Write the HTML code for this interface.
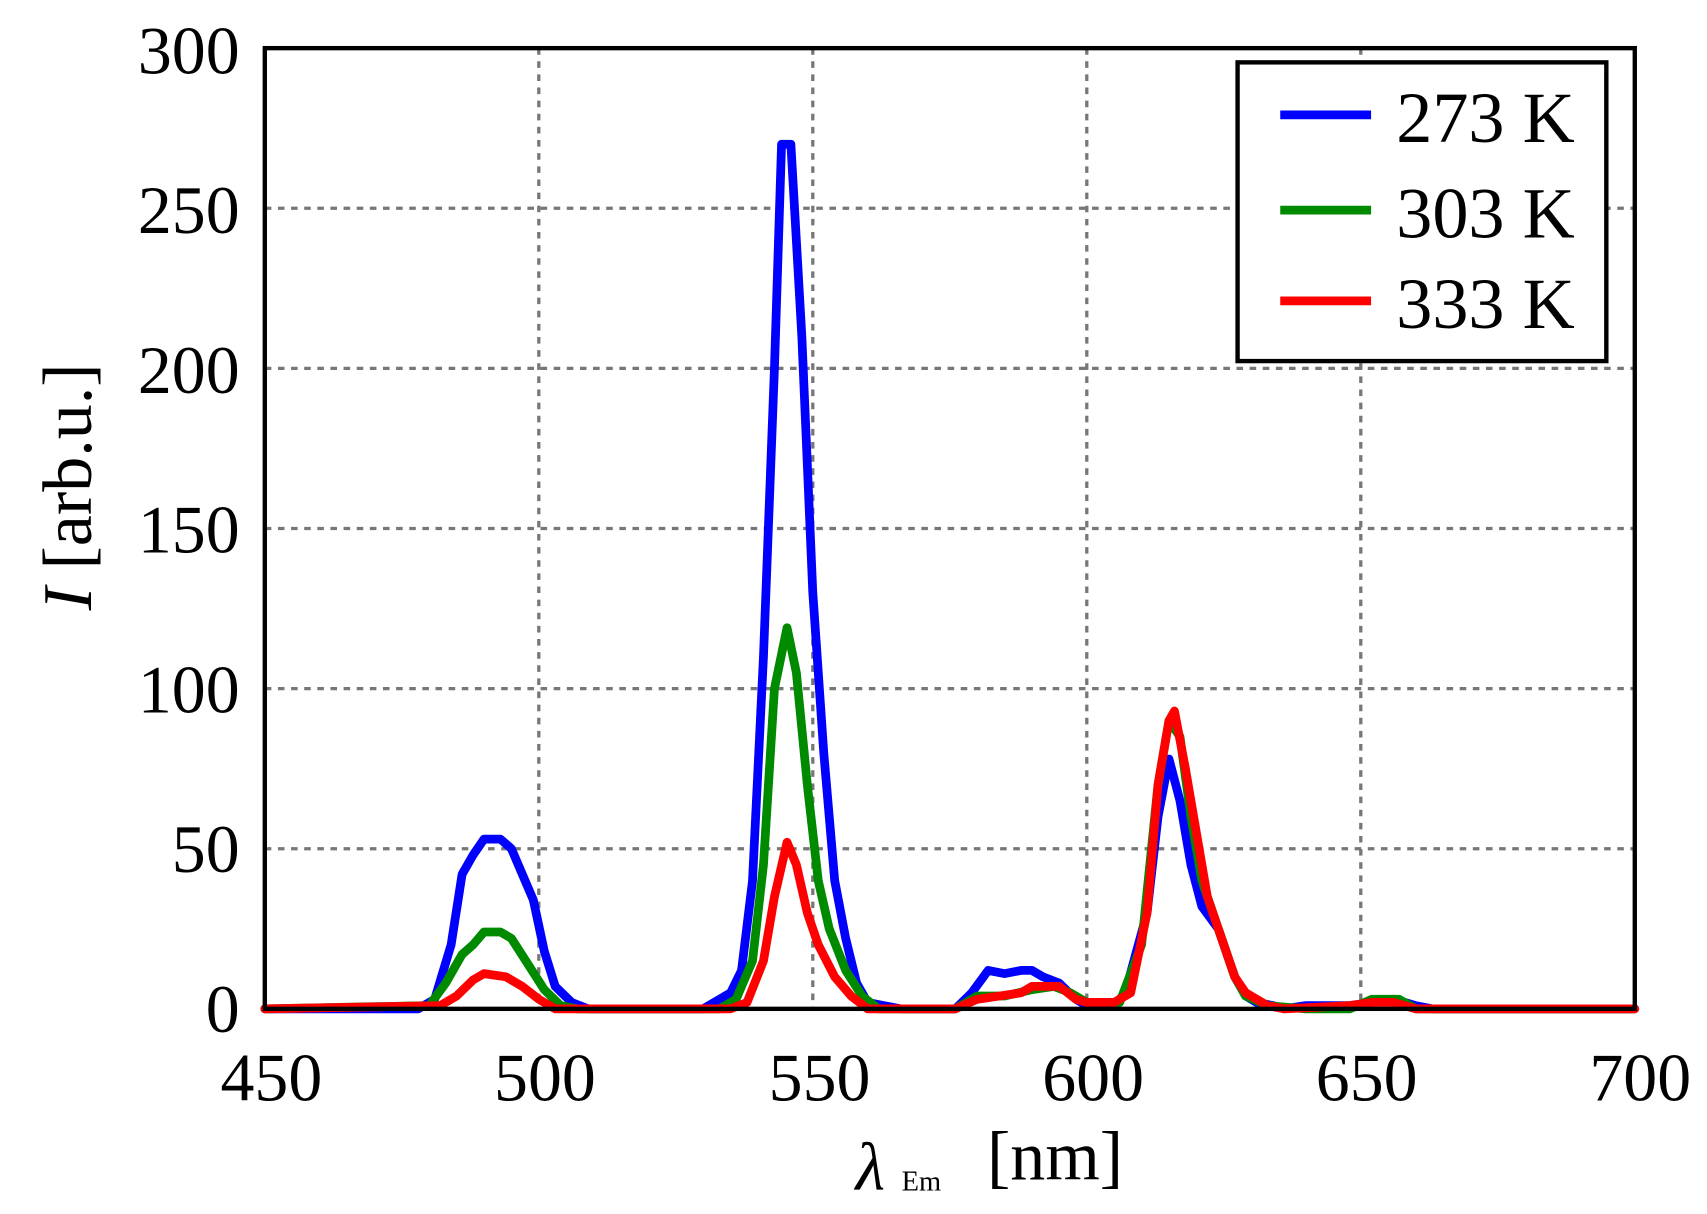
<!DOCTYPE html>
<html><head><meta charset="utf-8"><style>
html,body{margin:0;padding:0;background:#fff;}
svg{display:block}
text{font-family:"Liberation Serif",serif;fill:#000}
</style></head><body>
<svg id="s" width="1707" height="1214" viewBox="0 0 1560 1109.5" preserveAspectRatio="none" xmlns="http://www.w3.org/2000/svg">
<rect x="0" y="0" width="1560" height="1110" fill="#fff"/>
<g id="grid" stroke="#777" stroke-width="3" stroke-dasharray="6,6"></g>
<g id="lines" fill="none" stroke-width="8" stroke-linejoin="round" stroke-linecap="round"></g>
<rect x="242" y="44" width="1252" height="878" fill="none" stroke="#000" stroke-width="4"/>
<g font-size="62" text-anchor="end">
<text x="219" y="943">0</text><text x="219" y="797">50</text><text x="219" y="651">100</text>
<text x="219" y="505">150</text><text x="219" y="359">200</text><text x="219" y="213">250</text><text x="219" y="67">300</text>
</g>
<g font-size="62" text-anchor="middle">
<text x="248" y="1006">450</text><text x="498" y="1006">500</text><text x="749" y="1006">550</text>
<text x="999" y="1006">600</text><text x="1249" y="1006">650</text><text x="1499" y="1006">700</text>
</g>
<text x="782" y="1087" font-size="62" font-style="italic">λ</text>
<text x="824" y="1088" font-size="26">Em</text>
<text x="902" y="1078" font-size="64">[nm]</text>
<text transform="translate(83,445) rotate(-90)" font-size="64" text-anchor="middle"><tspan font-style="italic">I</tspan> [arb.u.]</text>
<rect x="1131" y="57" width="337" height="273" fill="#fff" stroke="#000" stroke-width="4"/>
<line x1="1170" y1="105" x2="1253" y2="105" stroke="#0000ff" stroke-width="8"/>
<line x1="1170" y1="192" x2="1253" y2="192" stroke="#008a00" stroke-width="8"/>
<line x1="1170" y1="275" x2="1253" y2="275" stroke="#ff0000" stroke-width="8"/>
<g font-size="66"><text x="1276" y="130">273 K</text><text x="1276" y="217">303 K</text><text x="1276" y="300">333 K</text></g>
</svg>
<script>
var X=function(v){return 242+(v-450)*1252/250},Y=function(v){return 922-v*878/300};
var g=document.getElementById('grid'),ns='http://www.w3.org/2000/svg';
function ln(p,a,b,c,d){var l=document.createElementNS(ns,'line');l.setAttribute('x1',a);l.setAttribute('y1',b);l.setAttribute('x2',c);l.setAttribute('y2',d);p.appendChild(l);}
[500,550,600,650].forEach(function(v){ln(g,X(v),44,X(v),922)});
[50,100,150,200,250].forEach(function(v){ln(g,242,Y(v),1494,Y(v))});
var B=[[450,0],[478,0],[481,3],[484,20],[486,42],[488,48],[490,53],[493,53],[495,50],[497,42],[499,34],[501,18],[503,7],[506,2],[509,0],[530,0],[532,2],[535,5],[537,12],[539,40],[541,110],[543,200],[544.3,270],[546,270],[548,210],[550,130],[552,80],[554,40],[556,22],[558,8],[560,2],[563,1],[566,0],[576,0],[579,5],[582,12],[585,11],[588,12],[590,12],[592,10],[595,8],[598,3],[600,1],[605,1],[607,5],[611,30],[613,60],[615,78],[617,65],[619,45],[621,32],[624,25],[627,10],[629,4],[631,2],[634,1],[636,0],[640,1],[648,1],[652,2],[656,3],[660,1],[663,0],[700,0]];
var G=[[450,0],[480,1],[483,8],[486,17],[488,20],[490,24],[493,24],[495,22],[498,14],[501,6],[504,1],[507,0],[533,0],[536,3],[539,15],[541,45],[543,100],[545.3,119],[547,105],[549,70],[551,40],[553,25],[556,12],[559,4],[562,0],[576,0],[580,4],[585,4],[590,6],[594,7],[597,5],[600,2],[606,2],[610,20],[613,70],[615,90],[617,85],[619,60],[621,40],[624,25],[627,10],[629,4],[633,1],[640,0],[648,0],[652,3],[657,3],[660,0],[700,0]];
var R=[[450,0],[482,1],[485,4],[488,9],[490,11],[494,10],[497,7],[500,3],[503,0],[535,0],[538,2],[541,15],[543,35],[545.3,52],[547,45],[549,30],[551,20],[554,10],[557,4],[560,0],[576,0],[580,3],[584,4],[588,5],[590,7],[595,7],[598,3],[600,2],[605,2],[608,5],[611,30],[613,70],[615,90],[616,93],[618,75],[620,55],[622,35],[625,20],[627,10],[629,5],[633,1],[636,0],[648,1],[652,2],[656,2],[660,0],[700,0]];
var L=document.getElementById('lines');
[[B,'#0000ff'],[G,'#008a00'],[R,'#ff0000']].forEach(function(s){var p=document.createElementNS(ns,'polyline');p.setAttribute('points',s[0].map(function(q){return X(q[0])+','+Y(q[1])}).join(' '));p.setAttribute('stroke',s[1]);L.appendChild(p);});
</script>
</body></html>
